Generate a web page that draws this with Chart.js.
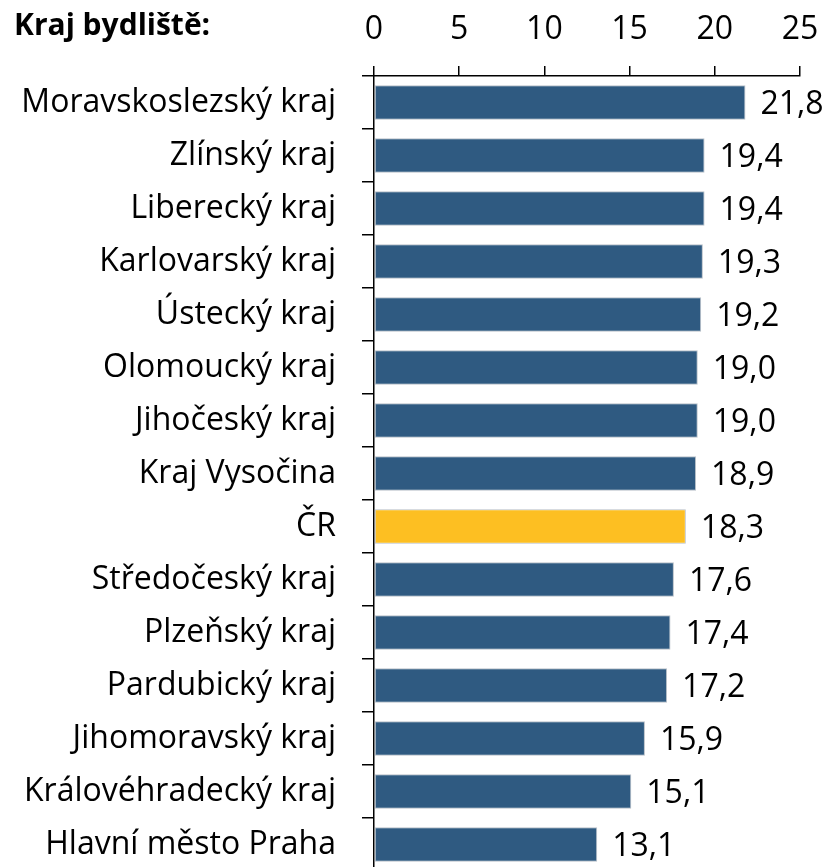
<!DOCTYPE html>
<html lang="cs">
  <head>
    <meta charset="UTF-8" />
    <title>Kraj bydliště</title>
    <script src="https://cdn.jsdelivr.net/npm/chart.js"></script>
    <style>
      * {
        margin: 0;
        padding: 0;
        box-sizing: border-box;
      }
      html,
      body {
        width: 833px;
        height: 867px;
        overflow: hidden;
        background: #ffffff;
      }
      #chart {
        display: block;
      }
    </style>
  </head>
  <body>
    <canvas id="chart" width="833" height="871"></canvas>
    <script>
      // data
      const title = "Kraj bydliště:";
      const categories = [
        "Moravskoslezský kraj",
        "Zlínský kraj",
        "Liberecký kraj",
        "Karlovarský kraj",
        "Ústecký kraj",
        "Olomoucký kraj",
        "Jihočeský kraj",
        "Kraj Vysočina",
        "ČR",
        "Středočeský kraj",
        "Plzeňský kraj",
        "Pardubický kraj",
        "Jihomoravský kraj",
        "Královéhradecký kraj",
        "Hlavní město Praha",
      ];
      const values = [21.8, 19.4, 19.4, 19.3, 19.2, 19.0, 19.0, 18.9, 18.3, 17.6, 17.4, 17.2, 15.9, 15.1, 13.1];
      const xTicks = [0, 5, 10, 15, 20, 25];
      const highlighted = "ČR";

      const FONT = "'Open Sans'";
      const SIZE = 32;
      const barColors = categories.map((c) =>
        c === highlighted ? "#fdbf22" : "#2f5a81"
      );

      // value labels at the end of each bar, decimal comma,
      // pulled back inside the canvas when they would not fit
      const valueLabels = {
        id: "valueLabels",
        afterDatasetsDraw(chart) {
          const ctx = chart.ctx;
          const meta = chart.getDatasetMeta(0);
          ctx.save();
          ctx.font = SIZE + "px " + FONT;
          ctx.fillStyle = "#000";
          ctx.textAlign = "left";
          ctx.textBaseline = "middle";
          meta.data.forEach((bar, i) => {
            const txt = values[i].toFixed(1).replace(".", ",");
            const w = ctx.measureText(txt).width;
            const x = Math.min(bar.x + 15, chart.width - 5 - w);
            ctx.fillText(txt, x, bar.y + 2);
          });
          ctx.restore();
        },
      };

      const titleText = {
        id: "titleText",
        afterDraw(chart) {
          const ctx = chart.ctx;
          ctx.save();
          ctx.font = "bold 30px " + FONT;
          ctx.fillStyle = "#000";
          ctx.textAlign = "left";
          ctx.textBaseline = "alphabetic";
          ctx.fillText(title, 14, 35);
          ctx.restore();
        },
      };

      new Chart(document.getElementById("chart"), {
        type: "bar",
        data: {
          labels: categories,
          datasets: [
            {
              data: values,
              backgroundColor: barColors,
              borderColor: "#b9c0c8",
              borderWidth: 1,
              borderSkipped: false,
              categoryPercentage: 1,
              barPercentage: 0.65,
            },
          ],
        },
        options: {
          indexAxis: "y",
          responsive: false,
          animation: false,
          devicePixelRatio: 1,
          layout: { padding: { left: 0, right: 33, top: 0, bottom: 0 } },
          plugins: {
            legend: { display: false },
            tooltip: { enabled: false },
          },
          scales: {
            x: {
              position: "top",
              min: xTicks[0],
              max: xTicks[xTicks.length - 1],
              afterBuildTicks: (scale) => {
                scale.ticks = xTicks.map((v) => ({ value: v }));
              },
              afterFit: (scale) => {
                scale.height = 76;
                scale.paddingLeft = 0;
                scale.paddingRight = 0;
              },
              ticks: {
                color: "#000",
                font: { family: FONT, size: SIZE },
                padding: 17,
                maxRotation: 0,
              },
              grid: {
                drawOnChartArea: false,
                drawTicks: true,
                tickLength: 10,
                color: "#000",
                lineWidth: 1.5,
              },
              border: { color: "#000", width: 1.5 },
            },
            y: {
              afterFit: (scale) => {
                scale.width = 374;
                scale.paddingTop = 0;
                scale.paddingBottom = 0;
              },
              ticks: {
                color: "#000",
                font: { family: FONT, size: SIZE },
                padding: 26,
              },
              grid: {
                offset: true,
                drawOnChartArea: false,
                drawTicks: true,
                tickLength: 12,
                color: "#000",
                lineWidth: 1.5,
              },
              border: { color: "#000", width: 1.5 },
            },
          },
        },
        plugins: [valueLabels, titleText],
      });
    </script>
  </body>
</html>
